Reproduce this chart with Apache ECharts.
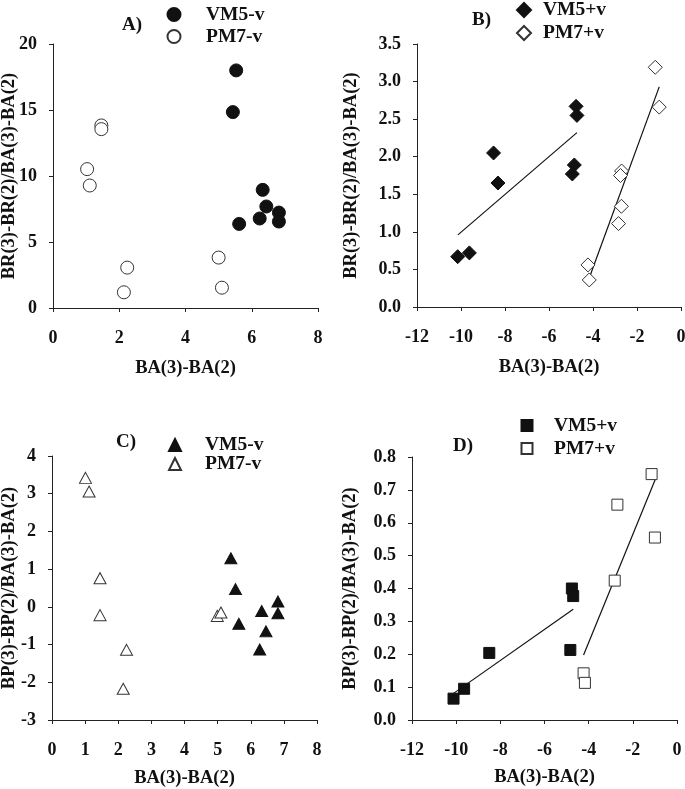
<!DOCTYPE html>
<html>
<head>
<meta charset="utf-8">
<script src="https://cdn.jsdelivr.net/npm/echarts@6/dist/echarts.min.js"></script>
<style>
html,body{margin:0;padding:0;background:#fff;}
#chart{width:685px;height:789px;}
</style>
</head>
<body>
<div id="chart"></div>
<script>
// Panel A: BR ratio vs BA difference (no v)
const aVM5x = [5.53, 5.43, 6.33, 6.44, 6.82, 6.82, 6.24, 5.62];
const aVM5y = [18.0, 14.84, 8.95, 7.69, 7.23, 6.55, 6.78, 6.37];
const aPM7x = [1.46, 1.46, 1.03, 1.11, 2.24, 2.14, 5.0, 5.10];
const aPM7y = [13.83, 13.55, 10.52, 9.28, 3.06, 1.19, 3.82, 1.54];
// Panel B: BR ratio vs BA difference (+v)
const bVM5x = [-10.15, -9.62, -8.52, -8.32, -4.77, -4.73, -4.85, -4.94];
const bVM5y = [0.67, 0.72, 2.05, 1.65, 2.67, 2.55, 1.89, 1.77];
const bPM7x = [-1.17, -0.99, -2.70, -2.75, -2.71, -2.84, -4.23, -4.17];
const bPM7y = [3.19, 2.66, 1.81, 1.75, 1.34, 1.11, 0.56, 0.36];
const bVM5fitX = [-10.14, -4.73];
const bVM5fitY = [0.96, 2.32];
const bPM7fitX = [-4.20, -0.99];
const bPM7fitY = [0.363, 2.93];
// Panel C: BP ratio vs BA difference (no v)
const cVM5x = [5.40, 5.54, 5.64, 6.33, 6.82, 6.82, 6.46, 6.27];
const cVM5y = [1.29, 0.47, -0.45, -0.11, 0.14, -0.17, -0.65, -1.13];
const cPM7x = [1.01, 1.12, 1.45, 1.45, 2.25, 2.15, 4.99, 5.10];
const cPM7y = [3.42, 3.06, 0.76, -0.22, -1.14, -2.17, -0.24, -0.15];
// Panel D: BP ratio vs BA difference (+v)
const dVM5x = [-10.12, -9.64, -8.50, -4.83, -4.76, -4.70];
const dVM5y = [0.065, 0.095, 0.204, 0.213, 0.400, 0.377];
const dPM7x = [-1.15, -2.70, -1.00, -2.82, -4.23, -4.17];
const dPM7y = [0.748, 0.655, 0.555, 0.424, 0.142, 0.113];
const dVM5fitX = [-10.12, -4.70];
const dVM5fitY = [0.081, 0.337];
const dPM7fitX = [-4.23, -0.99];
const dPM7fitY = [0.198, 0.731];

const panelLabels = ['A)', 'B)', 'C)', 'D)'];
const xTitle = 'BA(3)-BA(2)';
const yTitleBR = 'BR(3)-BR(2)/BA(3)-BA(2)';
const yTitleBP = 'BP(3)-BP(2)/BA(3)-BA(2)';

const FONT = "'Liberation Serif', 'Times New Roman', serif";
const zip = (xs, ys) => xs.map((x, i) => [x, ys[i]]);

function xAxisCfg(gi, min, max, interval, gap) {
  return {
    gridIndex: gi, type: 'value', min, max, interval,
    name: xTitle, nameLocation: 'middle', nameGap: gap, nameMoveOverlap: false,
    nameTextStyle: {fontFamily: FONT, fontWeight: 'bold', fontSize: 18.5, color: '#111'},
    axisLine: {show: true, onZero: false, lineStyle: {color: '#222', width: 1}},
    axisTick: {show: true, inside: false, length: 4, lineStyle: {color: '#222'}},
    splitLine: {show: false},
    axisLabel: {fontFamily: FONT, fontWeight: 'bold', fontSize: 18, color: '#111', margin: 21}
  };
}
function yAxisCfg(gi, min, max, interval, name, gap, dec) {
  return {
    gridIndex: gi, type: 'value', min, max, interval,
    name, nameLocation: 'middle', nameGap: gap, nameRotate: 90, nameMoveOverlap: false,
    nameTextStyle: {fontFamily: FONT, fontWeight: 'bold', fontSize: 18.5, color: '#111'},
    axisLine: {show: true, onZero: false, lineStyle: {color: '#222', width: 1}},
    axisTick: {show: true, inside: false, length: 4, lineStyle: {color: '#222'}},
    splitLine: {show: false},
    axisLabel: {fontFamily: FONT, fontWeight: 'bold', fontSize: 18, color: '#111', margin: 16,
      formatter: v => dec ? v.toFixed(dec) : String(v)}
  };
}
const filled = {color: '#111', borderColor: '#111', borderWidth: 1, opacity: 1};
const open = {color: '#fff', borderColor: '#333', borderWidth: 1, opacity: 1};
function sc(name, gi, xs, ys, symbol, size, style) {
  return {name, type: 'scatter', xAxisIndex: gi, yAxisIndex: gi, data: zip(xs, ys),
    symbol, symbolSize: size, itemStyle: style, z: 3};
}
function fit(gi, xs, ys) {
  return {type: 'line', xAxisIndex: gi, yAxisIndex: gi, data: zip(xs, ys), symbol: 'none',
    lineStyle: {color: '#111', width: 1.2}, z: 2, silent: true};
}
// iconCx: icon centre x, textX: text start x, cy: first row centre y, rowGap: distance between rows
function legendCfg(names, iconCx, textX, cy, size, rowGap) {
  return {data: names, orient: 'vertical', padding: 0, left: iconCx - size / 2, top: cy - 2 - size / 2,
    itemWidth: size, itemHeight: size, itemGap: rowGap - 21,
    selectedMode: false,
    formatter: n => n.split('|')[1],
    textStyle: {fontFamily: FONT, fontWeight: 'bold', fontSize: 19.5, color: '#111',
      padding: [0, 0, 0, textX - (iconCx + size / 2 + 5)]}};
}
const gridBase = {outerBoundsMode: 'none', containLabel: false};

const option = {
  animation: false,
  backgroundColor: '#fff',
  grid: [
    Object.assign({left: 53, top: 44, width: 265, height: 264}, gridBase),
    Object.assign({left: 417, top: 44, width: 264, height: 263}, gridBase),
    Object.assign({left: 52, top: 456, width: 265, height: 264}, gridBase),
    Object.assign({left: 412, top: 457, width: 265, height: 263}, gridBase)
  ],
  xAxis: [
    xAxisCfg(0, 0, 8, 2, 51),
    xAxisCfg(1, -12, 0, 2, 51),
    xAxisCfg(2, 0, 8, 1, 49),
    xAxisCfg(3, -12, 0, 2, 48)
  ],
  yAxis: [
    yAxisCfg(0, 0, 20, 5, yTitleBR, 34, 0),
    yAxisCfg(1, 0, 3.5, 0.5, yTitleBR, 56, 1),
    yAxisCfg(2, -3, 4, 1, yTitleBP, 33, 0),
    yAxisCfg(3, 0, 0.8, 0.1, yTitleBP, 52, 1)
  ],
  legend: [
    legendCfg(['A|VM5-v', 'A|PM7-v'], 173, 205, 13, 13, 23),
    legendCfg(['B|VM5+v', 'B|PM7+v'], 523, 542, 9, 14, 24),
    legendCfg(['C|VM5-v', 'C|PM7-v'], 174, 204, 443, 12, 20),
    legendCfg(['D|VM5+v', 'D|PM7+v'], 526, 553, 423, 11, 24)
  ],
  graphic: [
    {type: 'text', left: 122, top: 16, style: {text: panelLabels[0], font: "bold 19px " + FONT, fill: '#111'}},
    {type: 'text', left: 472, top: 11, style: {text: panelLabels[1], font: "bold 19px " + FONT, fill: '#111'}},
    {type: 'text', left: 116, top: 433, style: {text: panelLabels[2], font: "bold 19px " + FONT, fill: '#111'}},
    {type: 'text', left: 453, top: 437, style: {text: panelLabels[3], font: "bold 19px " + FONT, fill: '#111'}}
  ],
  series: [
    sc('A|VM5-v', 0, aVM5x, aVM5y, 'circle', 13, filled),
    sc('A|PM7-v', 0, aPM7x, aPM7y, 'circle', 13, open),
    sc('B|VM5+v', 1, bVM5x, bVM5y, 'diamond', 14, filled),
    sc('B|PM7+v', 1, bPM7x, bPM7y, 'diamond', 14, open),
    fit(1, bVM5fitX, bVM5fitY),
    fit(1, bPM7fitX, bPM7fitY),
    sc('C|VM5-v', 2, cVM5x, cVM5y, 'triangle', [12, 11], filled),
    sc('C|PM7-v', 2, cPM7x, cPM7y, 'triangle', [12, 11], open),
    sc('D|VM5+v', 3, dVM5x, dVM5y, 'rect', 11, filled),
    sc('D|PM7+v', 3, dPM7x, dPM7y, 'rect', 11, open),
    fit(3, dVM5fitX, dVM5fitY),
    fit(3, dPM7fitX, dPM7fitY)
  ]
};
const chart = echarts.init(document.getElementById('chart'), null, {renderer: 'canvas'});
chart.setOption(option);
</script>
</body>
</html>
